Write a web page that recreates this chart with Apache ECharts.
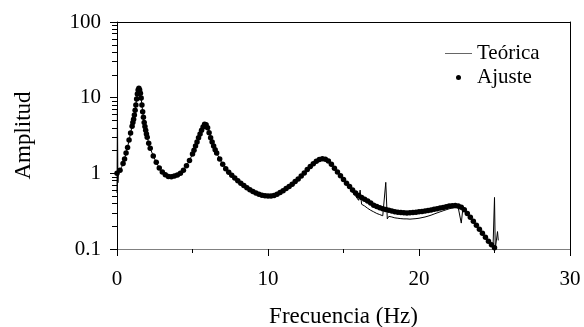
<!DOCTYPE html>
<html>
<head>
<meta charset="utf-8">
<script src="https://cdn.jsdelivr.net/npm/echarts@6/dist/echarts.min.js"></script>
<style>html,body{margin:0;padding:0;background:#fff}#c{width:584px;height:327px}</style>
</head>
<body>
<div id="c"></div>
<script>
// Ajuste (fitted points)
var fitFreq = [0,0.2,0.4,0.5,0.6,0.7,0.8,0.9,1.0,1.05,1.1,1.15,1.2,1.25,1.3,1.35,1.4,1.45,1.5,1.55,1.6,1.65,1.7,1.75,1.8,1.85,1.9,1.95,2.0,2.1,2.2,2.4,2.6,2.8,3.0,3.2,3.4,3.6,3.8,4.0,4.2,4.4,4.6,4.8,5.0,5.1,5.2,5.3,5.4,5.5,5.6,5.7,5.8,5.9,6.0,6.1,6.2,6.3,6.4,6.5,6.6,6.8,7.0,7.2,7.4,7.6,7.8,8.0,8.2,8.4,8.6,8.8,9.0,9.2,9.4,9.6,9.8,10.0,10.2,10.4,10.6,10.8,11.0,11.2,11.4,11.6,11.8,12.0,12.2,12.4,12.6,12.8,13.0,13.2,13.4,13.6,13.8,14.0,14.2,14.4,14.6,14.8,15.0,15.2,15.4,15.6,15.8,16.0,16.2,16.4,16.6,16.8,17.0,17.2,17.4,17.6,17.8,18.0,18.2,18.4,18.6,18.8,19.0,19.2,19.4,19.6,19.8,20.0,20.2,20.4,20.6,20.8,21.0,21.2,21.4,21.6,21.8,22.0,22.2,22.4,22.6,22.8,23.0,23.2,23.4,23.6,23.8,24.0,24.2,24.4,24.6,24.8,25.0];
var fitAmp = [1.0,1.1,1.35,1.55,1.85,2.2,2.75,3.4,4.2,4.7,5.2,5.9,6.8,8.0,9.6,11.2,12.6,13.3,12.6,11.4,9.9,8.0,6.5,5.5,4.7,4.15,3.7,3.3,3.0,2.5,2.15,1.7,1.4,1.18,1.04,0.96,0.91,0.9,0.92,0.95,1.0,1.1,1.26,1.48,1.8,2.02,2.3,2.6,2.95,3.3,3.7,4.1,4.45,4.4,4.0,3.45,2.95,2.6,2.3,2.05,1.85,1.55,1.32,1.15,1.03,0.94,0.87,0.8,0.74,0.69,0.645,0.605,0.575,0.55,0.53,0.515,0.505,0.5,0.5,0.51,0.53,0.56,0.59,0.63,0.67,0.72,0.78,0.84,0.92,1.01,1.12,1.23,1.34,1.44,1.52,1.56,1.54,1.45,1.32,1.17,1.04,0.93,0.83,0.74,0.67,0.6,0.55,0.51,0.48,0.455,0.43,0.405,0.38,0.365,0.352,0.341,0.332,0.324,0.317,0.311,0.306,0.303,0.301,0.3,0.301,0.303,0.306,0.31,0.314,0.318,0.323,0.328,0.334,0.34,0.347,0.354,0.362,0.369,0.374,0.375,0.37,0.355,0.33,0.295,0.262,0.232,0.206,0.182,0.161,0.143,0.127,0.114,0.104];

// Teórica (theoretical curve, noisy)
var theoFreq = [0,0.03,0.06,0.1,0.2,0.3,0.4,0.5,0.6,0.7,0.8,0.9,1.0,1.1,1.2,1.3,1.4,1.45,1.5,1.6,1.7,1.8,1.9,2.0,2.1,2.2,2.4,2.6,2.8,3.0,3.2,3.4,3.6,3.8,4.0,4.2,4.4,4.6,4.8,5.0,5.2,5.4,5.6,5.8,5.9,6.0,6.2,6.4,6.6,6.8,7.0,7.2,7.4,7.6,7.8,8.0,8.2,8.4,8.6,8.8,9.0,9.2,9.4,9.6,9.8,10.0,10.2,10.4,10.6,10.8,11.0,11.2,11.4,11.6,11.8,12.0,12.2,12.4,12.6,12.8,13.0,13.2,13.4,13.6,13.8,14.0,14.2,14.4,14.6,14.8,14.9,15.0,15.1,15.2,15.3,15.4,15.5,15.6,15.7,15.8,15.9,16.0,16.1,16.2,16.3,16.4,16.5,16.6,16.7,16.8,16.9,17.0,17.1,17.2,17.3,17.4,17.5,17.6,17.7,17.8,17.9,18.0,18.1,18.2,18.3,18.4,18.5,18.6,18.7,18.8,18.9,19.0,19.1,19.2,19.3,19.4,19.5,19.6,19.7,19.8,19.9,20.0,20.1,20.2,20.3,20.4,20.5,20.6,20.7,20.8,20.9,21.0,21.1,21.2,21.3,21.4,21.5,21.6,21.7,21.8,21.9,22.0,22.1,22.2,22.3,22.4,22.5,22.6,22.7,22.8,22.9,23.0,23.1,23.2,23.3,23.4,23.5,23.6,23.7,23.8,23.9,24.0,24.1,24.2,24.3,24.4,24.5,24.6,24.7,24.8,24.9,25.0,25.05,25.1,25.2,25.25];
var theoAmp = [0.55,7.0,0.75,1.05,1.12,1.2,1.33,1.56,1.83,2.22,2.72,3.42,4.18,5.25,6.75,9.7,12.5,13.1,12.7,9.8,6.6,4.65,3.72,2.98,2.52,2.13,1.71,1.39,1.19,1.03,0.97,0.9,0.91,0.92,0.96,0.99,1.11,1.25,1.49,1.79,2.31,2.93,3.72,4.42,4.38,4.02,2.93,2.32,1.84,1.56,1.31,1.16,1.02,0.95,0.86,0.81,0.73,0.7,0.64,0.61,0.57,0.555,0.525,0.52,0.5,0.505,0.495,0.515,0.525,0.565,0.585,0.635,0.665,0.725,0.775,0.845,0.915,1.02,1.11,1.24,1.33,1.45,1.51,1.57,1.53,1.46,1.31,1.18,1.03,0.94,0.86,0.82,0.78,0.72,0.69,0.64,0.61,0.56,0.54,0.5,0.48,0.44,0.6,0.39,0.4,0.37,0.37,0.345,0.35,0.325,0.33,0.31,0.315,0.295,0.3,0.285,0.29,0.275,0.28,0.76,0.25,0.27,0.26,0.265,0.25,0.258,0.245,0.255,0.24,0.252,0.243,0.25,0.24,0.25,0.238,0.248,0.242,0.25,0.24,0.252,0.245,0.255,0.248,0.26,0.255,0.265,0.26,0.272,0.266,0.28,0.275,0.29,0.283,0.3,0.293,0.31,0.305,0.32,0.315,0.33,0.326,0.34,0.335,0.348,0.343,0.352,0.345,0.35,0.34,0.22,0.335,0.318,0.31,0.29,0.28,0.26,0.25,0.23,0.22,0.2,0.195,0.18,0.172,0.16,0.152,0.14,0.136,0.125,0.12,0.11,0.102,0.48,0.1,0.105,0.17,0.13];

var xTicks = [0, 10, 20, 30];
var yTicks = [0.1, 1, 10, 100];
var yMinorTicks = [0.2,0.3,0.4,0.5,0.6,0.7,0.8,0.9,2,3,4,5,6,7,8,9,20,30,40,50,60,70,80,90];

function pairs(xs, ys) { var out = []; for (var i = 0; i < xs.length; i++) out.push([xs[i], ys[i]]); return out; }

var FONT = 'Liberation Serif';
var chart = echarts.init(document.getElementById('c'), null, {renderer: 'canvas'});
chart.setOption({
  animation: false,
  backgroundColor: '#fff',
  textStyle: {fontFamily: FONT, color: '#000'},
  grid: {left: 117, right: 14, top: 22, bottom: 78, containLabel: false, outerBoundsMode: 'none'},
  legend: {
    orient: 'vertical', left: 440, top: 38, itemWidth: 27, itemHeight: 5, itemGap: 3,
    symbolKeepAspect: true,
    textStyle: {fontFamily: FONT, fontSize: 21, color: '#000'},
    data: [
      {name: 'Teórica', icon: 'path://M0,0h27v1h-27z', itemStyle: {color: '#666', opacity: 1}},
      {name: 'Ajuste', icon: 'circle', itemStyle: {color: '#000', opacity: 1}}
    ]
  },
  xAxis: [{
    type: 'value', min: xTicks[0], max: xTicks[xTicks.length - 1], interval: 10, position: 'bottom',
    axisLine: {onZero: false, lineStyle: {color: '#808080', width: 1}},
    axisTick: {length: 7, lineStyle: {color: '#000'}},
    minorTick: {show: true, splitNumber: 2, length: 4, lineStyle: {color: '#000'}},
    splitLine: {show: false},
    axisLabel: {fontFamily: FONT, fontSize: 21, color: '#000', margin: 20},
    name: 'Frecuencia (Hz)', nameLocation: 'middle', nameGap: 56,
    nameTextStyle: {fontFamily: FONT, fontSize: 23, color: '#000'}
  }, {
    type: 'value', min: 0, max: 30, position: 'top',
    axisLine: {show: true, onZero: false, lineStyle: {color: '#000', width: 1}},
    axisTick: {show: false}, axisLabel: {show: false}, splitLine: {show: false}
  }],
  yAxis: [{
    type: 'log', logBase: 10, min: yTicks[0], max: yTicks[yTicks.length - 1], position: 'left',
    axisLine: {show: true, onZero: false, lineStyle: {color: '#000', width: 1}},
    axisTick: {show: true, length: 7, lineStyle: {color: '#000'}},
    splitLine: {show: false},
    axisLabel: {fontFamily: FONT, fontSize: 21, color: '#000', margin: 16,
      formatter: function (v) { return String(+v.toPrecision(3)); }},
    name: 'Amplitud', nameLocation: 'middle', nameGap: 82, nameRotate: 90,
    nameTextStyle: {fontFamily: FONT, fontSize: 23, color: '#000'}
  }, {
    // minor ticks of the log axis, placed in log10 space
    type: 'value', min: -1, max: 2, position: 'left', offset: 0,
    axisLine: {show: false, onZero: false},
    axisTick: {show: true, length: 5, customValues: yMinorTicks.map(function (v) { return Math.log10(v); }), lineStyle: {color: '#000'}},
    axisLabel: {show: false}, splitLine: {show: false}
  }, {
    type: 'value', min: 0, max: 1, position: 'right',
    axisLine: {show: true, onZero: false, lineStyle: {color: '#000', width: 1}},
    axisTick: {show: false}, axisLabel: {show: false}, splitLine: {show: false}
  }],
  series: [{
    name: 'Ajuste', type: 'scatter', xAxisIndex: 0, yAxisIndex: 0,
    data: pairs(fitFreq, fitAmp), symbol: 'circle', symbolSize: 5.5,
    itemStyle: {color: '#000', opacity: 1}, z: 2, silent: true
  }, {
    name: 'Teórica', type: 'line', xAxisIndex: 0, yAxisIndex: 0,
    data: pairs(theoFreq, theoAmp), symbol: 'none', showSymbol: false,
    lineStyle: {color: '#000', width: 1}, itemStyle: {color: '#000'}, z: 3, silent: true
  }]
});
</script>
</body>
</html>
